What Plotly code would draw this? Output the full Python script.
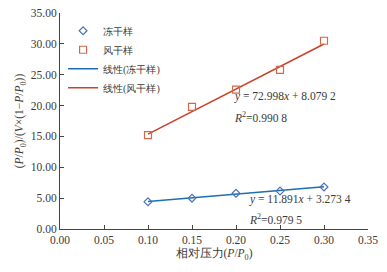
import plotly.graph_objects as go

x_vals = [0.10, 0.15, 0.20, 0.25, 0.30]
freeze_dried = [4.40, 5.00, 5.80, 6.15, 6.80]
air_dried = [15.20, 19.80, 22.60, 25.80, 30.50]
fit_freeze = (11.891, 3.2734)
fit_air = (72.998, 8.0792)
names = ["冻干样", "风干样", "线性(冻干样)", "线性(风干样)"]

FONT = "Liberation Serif, Times New Roman, DejaVu Serif, serif"
BLUE_LINE = "#1f6eb0"
RED_LINE = "#c9432c"
BLUE_MK = "#4a72b8"
RED_MK = "#d2694a"
TXT = "#3a3a3a"

fig = go.Figure()
xl = [x_vals[0], x_vals[-1]]
fig.add_trace(go.Scatter(x=xl, y=[fit_freeze[0]*v + fit_freeze[1] for v in xl], mode="lines",
                         name=names[2], legendrank=3, line=dict(color=BLUE_LINE, width=1.6)))
fig.add_trace(go.Scatter(x=xl, y=[fit_air[0]*v + fit_air[1] for v in xl], mode="lines",
                         name=names[3], legendrank=4, line=dict(color=RED_LINE, width=1.6)))
fig.add_trace(go.Scatter(x=x_vals, y=freeze_dried, mode="markers", name=names[0], legendrank=1,
                         marker=dict(symbol="diamond-open", size=6, color=BLUE_MK, line=dict(width=1.2))))
fig.add_trace(go.Scatter(x=x_vals, y=air_dried, mode="markers", name=names[1], legendrank=2,
                         marker=dict(symbol="square-open", size=7, color=RED_MK, line=dict(width=1.2))))

ann_font = dict(family=FONT, size=11.5, color=TXT)
for x, y, t in [
    (0.195, 21.4, "<i>y</i> = 72.998<i>x</i> + 8.079 2"),
    (0.195, 18.1, "<i>R</i><sup>2</sup>=0.990 8"),
    (0.2125, 4.7, "<i>y</i> = 11.891<i>x</i> + 3.273 4"),
    (0.2125, 1.6, "<i>R</i><sup>2</sup>=0.979 5"),
]:
    fig.add_annotation(x=x, y=y, text=t, showarrow=False, xanchor="left", yanchor="middle",
                       font=ann_font)

axis_common = dict(showgrid=False, zeroline=False, showline=True, linecolor="#444444", linewidth=1,
                   ticks="inside", ticklen=4, tickcolor="#444444", automargin=False,
                   ticklabeloverflow="allow",
                   tickfont=dict(family=FONT, size=11.5, color=TXT))
fig.update_xaxes(range=[0, 0.35], dtick=0.05, tickformat=".2f",
                 title=dict(text="相对压力(<i>P</i>/<i>P</i><sub>0</sub>)",
                            font=dict(family=FONT, size=11.5, color=TXT), standoff=4),
                 **axis_common)
fig.update_yaxes(range=[0, 35], dtick=5, tickformat=".2f",
                 title=dict(text="(<i>P</i>/<i>P</i><sub>0</sub>)/(<i>V</i>×(1−<i>P</i>/<i>P</i><sub>0</sub>))",
                            font=dict(family=FONT, size=11.5, color=TXT), standoff=4),
                 **axis_common)
fig.update_layout(
    width=379, height=264, margin=dict(l=52, r=19, t=5, b=43),
    paper_bgcolor="white", plot_bgcolor="white",
    showlegend=True,
    legend=dict(x=0.01, y=0.985, xanchor="left", yanchor="top", bgcolor="rgba(0,0,0,0)",
                font=dict(family=FONT, size=10, color=TXT), itemwidth=30,
                tracegroupgap=0, traceorder="normal"),
)
fig.write_html("out.html")
